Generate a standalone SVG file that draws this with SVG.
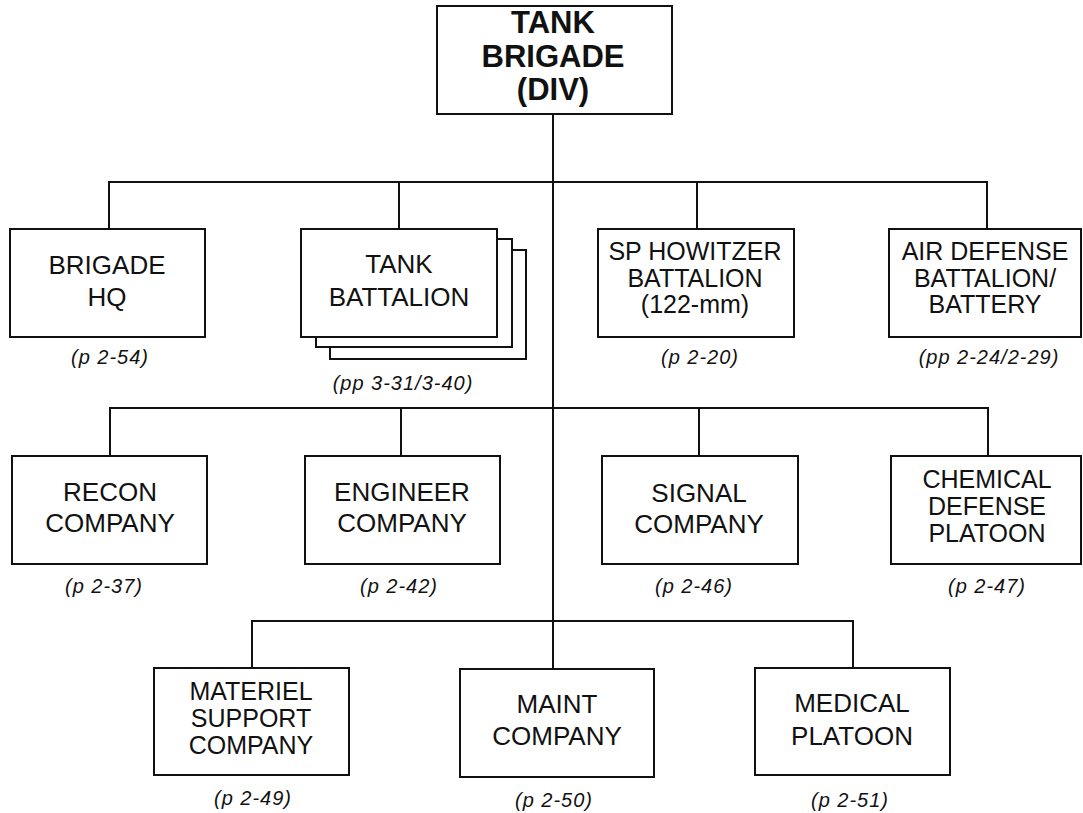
<svg xmlns="http://www.w3.org/2000/svg" width="1083" height="813" viewBox="0 0 1083 813">
<style>
.box{fill:#fff;stroke:#111;stroke-width:2}
.ln{fill:none;stroke:#111;stroke-width:2}
.t{font-family:"Liberation Sans",Arial,sans-serif;font-size:26px;fill:#111;text-anchor:middle}
.t3{font-family:"Liberation Sans",Arial,sans-serif;font-size:25px;fill:#111;text-anchor:middle}
.b{font-family:"Liberation Sans",Arial,sans-serif;font-size:31px;font-weight:bold;fill:#111;text-anchor:middle}
.p{font-family:"Liberation Sans",Arial,sans-serif;font-size:20px;font-style:italic;letter-spacing:1px;fill:#111;text-anchor:middle}
</style>
<rect width="1083" height="813" fill="#fff"/>
<g id="connectors">
<path class="ln" d="M553,114V669"/>
<path class="ln" d="M109,229V182H987V229M399,182V229M697,182V229"/>
<path class="ln" d="M110,456V408H988V456M401,408V456M699,408V456"/>
<path class="ln" d="M252,668V621H853V668"/>
</g>
<g id="tank-brigade">
<rect class="box" x="437" y="6" width="235" height="108"/>
<text class="b"><tspan x="553" y="33">TANK</tspan><tspan x="553" y="67">BRIGADE</tspan><tspan x="553" y="100">(DIV)</tspan></text>
</g>
<g id="brigade-hq">
<rect class="box" x="10" y="229" width="195" height="108"/>
<text class="t"><tspan x="107" y="274">BRIGADE</tspan><tspan x="107" y="306">HQ</tspan></text>
<text class="p" x="110" y="364">(p 2-54)</text>
</g>
<g id="tank-battalion">
<rect class="box" x="330" y="250" width="196" height="109"/>
<rect class="box" x="316" y="239" width="196" height="108"/>
<rect class="box" x="301" y="229" width="196" height="108"/>
<text class="t"><tspan x="399" y="273">TANK</tspan><tspan x="399" y="306">BATTALION</tspan></text>
<text class="p" x="403" y="390">(pp 3-31/3-40)</text>
</g>
<g id="sp-howitzer">
<rect class="box" x="598" y="229" width="196" height="108"/>
<text class="t3"><tspan x="695" y="260">SP HOWITZER</tspan><tspan x="695" y="287">BATTALION</tspan><tspan x="695" y="313">(122-mm)</tspan></text>
<text class="p" x="700" y="364">(p 2-20)</text>
</g>
<g id="air-defense">
<rect class="box" x="889" y="229" width="192" height="108"/>
<text class="t3"><tspan x="985" y="260">AIR DEFENSE</tspan><tspan x="985" y="287">BATTALION/</tspan><tspan x="985" y="313">BATTERY</tspan></text>
<text class="p" x="989" y="364">(pp 2-24/2-29)</text>
</g>
<g id="recon">
<rect class="box" x="12" y="456" width="195" height="108"/>
<text class="t"><tspan x="110" y="501">RECON</tspan><tspan x="110" y="532">COMPANY</tspan></text>
<text class="p" x="104" y="593">(p 2-37)</text>
</g>
<g id="engineer">
<rect class="box" x="305" y="456" width="195" height="108"/>
<text class="t"><tspan x="402" y="501">ENGINEER</tspan><tspan x="402" y="532">COMPANY</tspan></text>
<text class="p" x="399" y="593">(p 2-42)</text>
</g>
<g id="signal">
<rect class="box" x="602" y="456" width="196" height="108"/>
<text class="t"><tspan x="699" y="502">SIGNAL</tspan><tspan x="699" y="533">COMPANY</tspan></text>
<text class="p" x="694" y="593">(p 2-46)</text>
</g>
<g id="chemical">
<rect class="box" x="891" y="456" width="190" height="108"/>
<text class="t3"><tspan x="987" y="488">CHEMICAL</tspan><tspan x="987" y="515">DEFENSE</tspan><tspan x="987" y="542">PLATOON</tspan></text>
<text class="p" x="987" y="593">(p 2-47)</text>
</g>
<g id="materiel">
<rect class="box" x="154" y="668" width="195" height="107"/>
<text class="t3"><tspan x="251" y="700">MATERIEL</tspan><tspan x="251" y="727">SUPPORT</tspan><tspan x="251" y="754">COMPANY</tspan></text>
<text class="p" x="253" y="805">(p 2-49)</text>
</g>
<g id="maint">
<rect class="box" x="460" y="669" width="194" height="108"/>
<text class="t"><tspan x="557" y="713">MAINT</tspan><tspan x="557" y="745">COMPANY</tspan></text>
<text class="p" x="554" y="807">(p 2-50)</text>
</g>
<g id="medical">
<rect class="box" x="755" y="668" width="195" height="107"/>
<text class="t"><tspan x="852" y="712">MEDICAL</tspan><tspan x="852" y="745">PLATOON</tspan></text>
<text class="p" x="850" y="807">(p 2-51)</text>
</g>
</svg>
